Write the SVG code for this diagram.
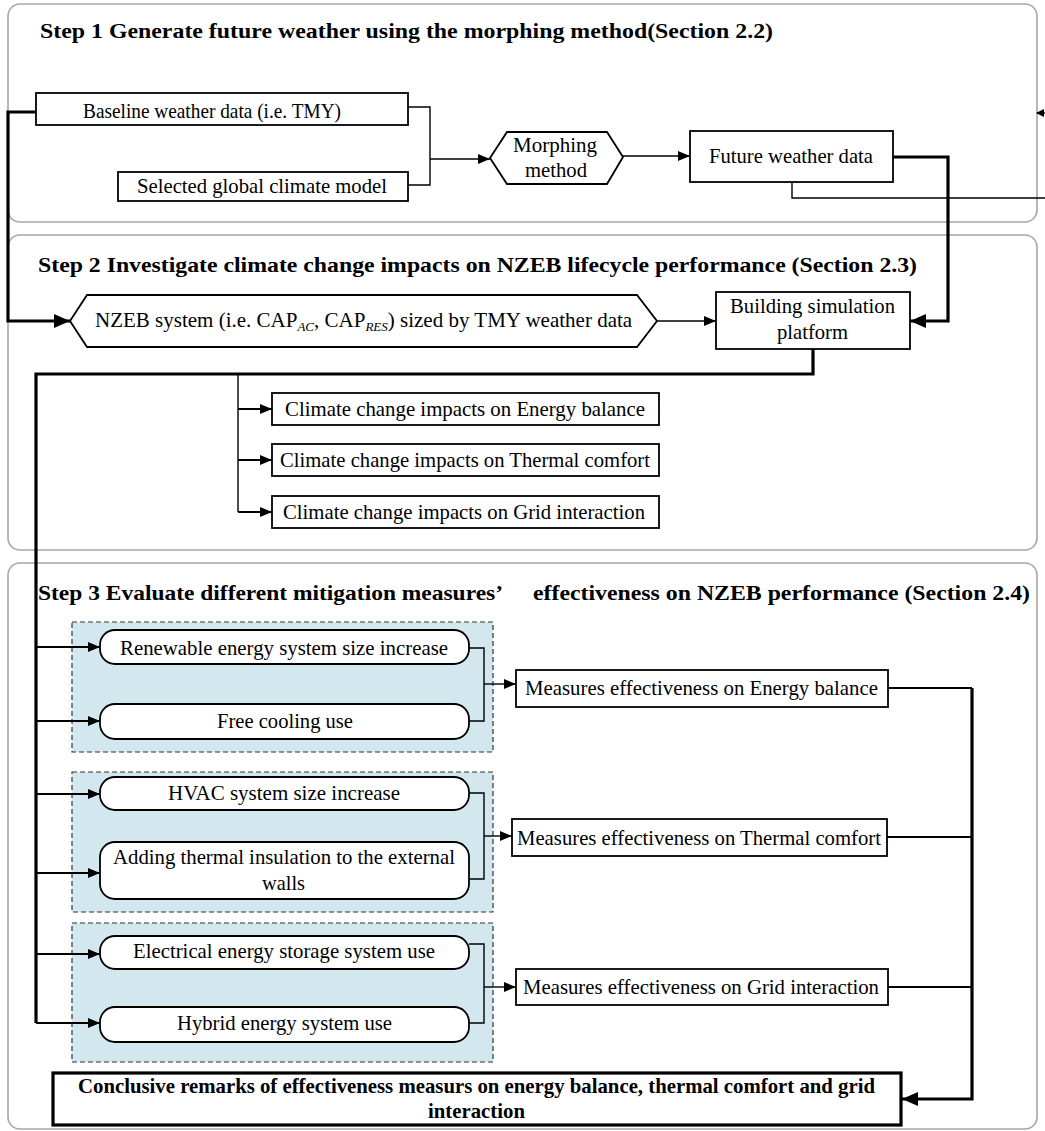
<svg xmlns="http://www.w3.org/2000/svg" width="1045" height="1131" viewBox="0 0 1045 1131" font-family="'Liberation Serif', 'Times New Roman', serif">
  <style>
    text { font-family: 'Liberation Serif', 'Times New Roman', serif; fill: #000; }
    .t { font-size: 21px; }
    .h { font-size: 21px; font-weight: bold; }
    .panel { fill: #fff; stroke: #a6a6a6; stroke-width: 1.6; }
    .grp { fill: #d3e8ee; stroke: #333; stroke-width: 1.2; stroke-dasharray: 5 3; }
    .box { fill: #fff; stroke: #000; stroke-width: 1.8; }
    .thin { fill: none; stroke: #000; stroke-width: 1.4; }
    .med { fill: none; stroke: #000; stroke-width: 2; }
    .thick { fill: none; stroke: #000; stroke-width: 3.2; }
  </style>
  <defs>
    <marker id="arr" viewBox="0 0 12 10" refX="12" refY="5" markerWidth="12" markerHeight="10" markerUnits="userSpaceOnUse" orient="auto">
      <path d="M0,0 L12,5 L0,10 Z" fill="#000"/>
    </marker>
    <marker id="arrB" viewBox="0 0 16 14" refX="16" refY="7" markerWidth="16" markerHeight="14" markerUnits="userSpaceOnUse" orient="auto">
      <path d="M0,0 L16,7 L0,14 Z" fill="#000"/>
    </marker>
  </defs>

  <!-- panels -->
  <g id="panel-step1">
    <rect class="panel" x="8" y="4" width="1029" height="218" rx="12"/>
    <text class="h" x="40" y="38" textLength="733" lengthAdjust="spacingAndGlyphs">Step 1 Generate future weather using the morphing method(Section 2.2)</text>
  </g>
  <g id="panel-step2">
    <rect class="panel" x="8" y="235" width="1029" height="315" rx="12"/>
    <text class="h" x="38" y="272" textLength="879" lengthAdjust="spacingAndGlyphs">Step 2 Investigate climate change impacts on NZEB lifecycle performance (Section 2.3)</text>
  </g>
  <g id="panel-step3">
    <rect class="panel" x="8" y="563" width="1029" height="566" rx="12"/>
    <text class="h" y="600"><tspan x="38" textLength="465" lengthAdjust="spacingAndGlyphs">Step 3 Evaluate different mitigation measures’</tspan><tspan x="533" textLength="497" lengthAdjust="spacingAndGlyphs">effectiveness on NZEB performance (Section 2.4)</tspan></text>
  </g>

  <!-- measure groups -->
  <g id="group-energy"><rect class="grp" x="72" y="622" width="421" height="130"/></g>
  <g id="group-comfort"><rect class="grp" x="72" y="772" width="421" height="140"/></g>
  <g id="group-grid"><rect class="grp" x="72" y="923" width="421" height="139"/></g>

  <!-- connectors -->
  <g id="connectors">
    <path class="thin" d="M408,107 H430 V185 H408"/>
    <path class="thin" d="M430,159 H490" marker-end="url(#arr)"/>
    <path class="thin" d="M623,156 H690" marker-end="url(#arr)"/>
    <path class="thick" d="M893,157 H948 V321 H910" marker-end="url(#arrB)"/>
    <path class="thin" d="M792,182 V198 H1045"/>
    <path d="M1045,113 L1037,113" class="thin"/>
    <path d="M1036,113 L1044,109 L1044,117 Z" fill="#000"/>
    <path class="thick" d="M36,112 H8 V321 H70" marker-end="url(#arrB)"/>
    <path class="thin" d="M657,321 H716" marker-end="url(#arr)"/>
    <path class="thick" d="M813,349 V374 H36 V1023"/>
    <path class="thin" d="M238,374 V512"/>
    <path class="med" d="M238,409 H272" marker-end="url(#arr)"/>
    <path class="med" d="M238,460 H272" marker-end="url(#arr)"/>
    <path class="med" d="M238,512 H272" marker-end="url(#arr)"/>
    <path class="med" d="M36,647 H100" marker-end="url(#arr)"/>
    <path class="med" d="M36,721 H100" marker-end="url(#arr)"/>
    <path class="med" d="M36,794 H100" marker-end="url(#arr)"/>
    <path class="med" d="M36,873 H100" marker-end="url(#arr)"/>
    <path class="med" d="M36,954 H100" marker-end="url(#arr)"/>
    <path class="med" d="M36,1023 H100" marker-end="url(#arr)"/>
    <path class="thin" d="M469,648 H484 V721 H469"/>
    <path class="thin" d="M484,684 H516" marker-end="url(#arr)"/>
    <path class="thin" d="M469,793 H484 V879 H469"/>
    <path class="thin" d="M484,836 H512" marker-end="url(#arr)"/>
    <path class="thin" d="M469,944 H484 V1023 H469"/>
    <path class="thin" d="M484,987 H516" marker-end="url(#arr)"/>
    <path class="med" d="M888,688 H972"/>
    <path class="med" d="M887,837 H972"/>
    <path class="med" d="M888,987 H972"/>
    <path class="thick" d="M972,688 V1099 H902" marker-end="url(#arrB)"/>
  </g>

  <!-- step 1 nodes -->
  <g id="baseline">
    <rect class="box" x="36" y="93" width="372" height="32"/>
    <text class="t" x="83" y="118" textLength="258" lengthAdjust="spacingAndGlyphs">Baseline weather data (i.e. TMY)</text>
  </g>
  <g id="gcm">
    <rect class="box" x="118" y="172" width="290" height="29"/>
    <text class="t" x="137" y="193" textLength="250" lengthAdjust="spacingAndGlyphs">Selected global climate model</text>
  </g>
  <g id="morphing">
    <path class="box" d="M490,158 L507,132 H607 L623,157 L607,184 H507 Z"/>
    <text class="t" x="513" y="152" textLength="84" lengthAdjust="spacingAndGlyphs">Morphing</text>
    <text class="t" x="525" y="177" textLength="62" lengthAdjust="spacingAndGlyphs">method</text>
  </g>
  <g id="future">
    <rect class="box" x="690" y="131" width="203" height="51"/>
    <text class="t" x="709" y="163" textLength="164" lengthAdjust="spacingAndGlyphs">Future weather data</text>
  </g>

  <!-- step 2 nodes -->
  <g id="nzeb">
    <path class="box" d="M70,321 L87,295 H637 L657,321 L637,347 H87 Z"/>
    <text class="t" x="95" y="327" font-size="20.5">NZEB system (i.e. CAP<tspan font-size="13" font-style="italic" dy="4">AC</tspan><tspan dy="-4">, CAP</tspan><tspan font-size="13" font-style="italic" dy="4">RES</tspan><tspan dy="-4">) sized by TMY weather data</tspan></text>
  </g>
  <g id="simulation">
    <rect class="box" x="716" y="292" width="194" height="57"/>
    <text class="t" x="730" y="313" textLength="165" lengthAdjust="spacingAndGlyphs">Building simulation</text>
    <text class="t" x="777" y="339" textLength="71" lengthAdjust="spacingAndGlyphs">platform</text>
  </g>
  <g id="impact-energy">
    <rect class="box" x="272" y="393" width="387" height="32"/>
    <text class="t" x="285" y="416" textLength="360" lengthAdjust="spacingAndGlyphs">Climate change impacts on Energy balance</text>
  </g>
  <g id="impact-comfort">
    <rect class="box" x="272" y="444" width="387" height="32"/>
    <text class="t" x="280" y="467" textLength="370" lengthAdjust="spacingAndGlyphs">Climate change impacts on Thermal comfort</text>
  </g>
  <g id="impact-grid">
    <rect class="box" x="272" y="496" width="387" height="32"/>
    <text class="t" x="283" y="519" textLength="362" lengthAdjust="spacingAndGlyphs">Climate change impacts on Grid interaction</text>
  </g>

  <!-- step 3 nodes -->
  <g id="res-size">
    <rect class="box" x="100" y="630" width="369" height="34" rx="15"/>
    <text class="t" x="120" y="655" textLength="328" lengthAdjust="spacingAndGlyphs">Renewable energy system size increase</text>
  </g>
  <g id="free-cooling">
    <rect class="box" x="100" y="704" width="369" height="35" rx="15"/>
    <text class="t" x="217" y="728" textLength="136" lengthAdjust="spacingAndGlyphs">Free cooling use</text>
  </g>
  <g id="hvac-size">
    <rect class="box" x="100" y="777" width="369" height="33" rx="15"/>
    <text class="t" x="168" y="800" textLength="232" lengthAdjust="spacingAndGlyphs">HVAC system size increase</text>
  </g>
  <g id="insulation">
    <rect class="box" x="100" y="842" width="369" height="57" rx="15"/>
    <text class="t" x="113" y="864" textLength="342" lengthAdjust="spacingAndGlyphs">Adding thermal insulation to the external</text>
    <text class="t" x="262" y="890" textLength="43" lengthAdjust="spacingAndGlyphs">walls</text>
  </g>
  <g id="storage">
    <rect class="box" x="100" y="936" width="369" height="33" rx="15"/>
    <text class="t" x="133" y="958" textLength="302" lengthAdjust="spacingAndGlyphs">Electrical energy storage system use</text>
  </g>
  <g id="hybrid">
    <rect class="box" x="100" y="1007" width="369" height="35" rx="15"/>
    <text class="t" x="177" y="1030" textLength="215" lengthAdjust="spacingAndGlyphs">Hybrid energy system use</text>
  </g>
  <g id="eff-energy">
    <rect class="box" x="516" y="670" width="372" height="37"/>
    <text class="t" x="525" y="695" textLength="353" lengthAdjust="spacingAndGlyphs">Measures effectiveness on Energy balance</text>
  </g>
  <g id="eff-comfort">
    <rect class="box" x="512" y="819" width="375" height="37"/>
    <text class="t" x="517" y="845" textLength="364" lengthAdjust="spacingAndGlyphs">Measures effectiveness on Thermal comfort</text>
  </g>
  <g id="eff-grid">
    <rect class="box" x="516" y="969" width="372" height="36"/>
    <text class="t" x="523" y="994" textLength="356" lengthAdjust="spacingAndGlyphs">Measures effectiveness on Grid interaction</text>
  </g>
  <g id="conclusion">
    <rect x="53" y="1073" width="848" height="52" fill="#fff" stroke="#000" stroke-width="3.2"/>
    <text class="h" x="78" y="1093" textLength="797" lengthAdjust="spacingAndGlyphs">Conclusive remarks of effectiveness measurs on energy balance, thermal comfort and grid</text>
    <text class="h" x="428" y="1118" textLength="97" lengthAdjust="spacingAndGlyphs">interaction</text>
  </g>
</svg>
